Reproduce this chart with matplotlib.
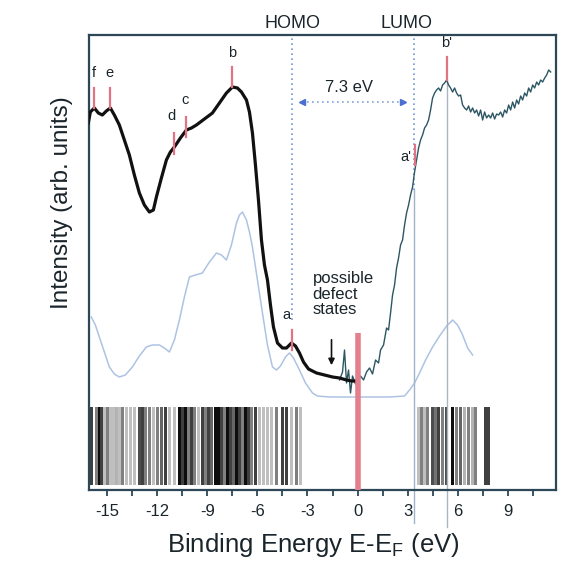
import matplotlib
matplotlib.use("Agg")
import matplotlib.pyplot as plt
from matplotlib.ticker import FixedLocator

plt.rcParams['font.family'] = ['Liberation Sans', 'DejaVu Sans']
plt.rcParams['axes.unicode_minus'] = False
plt.rcParams['mathtext.fontset'] = 'custom'
plt.rcParams['mathtext.rm'] = 'Liberation Sans'

# ---- data ----
# occupied-side spectrum (thick black)
occ_E = [-16.14, -16.02, -15.78, -15.54, -15.30, -15.06, -14.82, -14.58, -14.28, -13.98,
         -13.68, -13.38, -13.08, -12.78, -12.48, -12.24, -12.06, -11.76, -11.46, -11.22,
         -10.98, -10.62, -10.26, -9.96, -9.66, -9.18, -8.70, -8.28, -7.86, -7.50,
         -7.20, -6.96, -6.66, -6.48, -6.30, -6.12, -5.94, -5.76, -5.58, -5.40,
         -5.22, -5.04, -4.80, -4.50, -4.26, -3.96, -3.72, -3.48, -3.24, -2.94,
         -2.46, -1.98, -1.50, -1.08, -0.66, -0.36, -0.06]
occ_I = [36.7, 37.8, 38.2, 37.7, 37.5, 37.9, 38.2, 37.5, 36.5, 35.0,
         33.5, 31.5, 29.7, 28.5, 27.8, 28.0, 29.3, 31.2, 33.0, 33.8,
         34.3, 35.2, 36.0, 36.2, 36.5, 37.1, 37.7, 38.7, 39.7, 40.3,
         40.2, 39.8, 39.0, 37.8, 35.7, 32.5, 29.0, 25.0, 22.5, 21.0,
         18.5, 16.3, 14.7, 14.2, 14.2, 14.7, 14.4, 13.7, 12.8, 12.1,
         11.7, 11.5, 11.3, 11.2, 11.0, 10.9, 10.9]

# unoccupied-side spectrum (thin)
unocc_E = [-1.08, -0.90, -0.78, -0.66, -0.54, -0.42, -0.30, -0.12, 0.00, 0.18,
           0.36, 0.54, 0.72, 0.90, 1.08, 1.26, 1.38, 1.56, 1.74, 1.86,
           1.98, 2.10, 2.22, 2.34, 2.46, 2.58, 2.70, 2.82, 2.94, 3.06,
           3.18, 3.30, 3.42, 3.54, 3.66, 3.78, 3.90, 4.02, 4.14, 4.26,
           4.38, 4.50, 4.62, 4.74, 4.86, 4.98, 5.10, 5.22, 5.34, 5.46,
           5.58, 5.70, 5.82, 5.94, 6.06, 6.18, 6.30, 6.42, 6.54, 6.66,
           6.78, 6.90, 7.02, 7.14, 7.26, 7.38, 7.50, 7.62, 7.74, 7.86,
           7.98, 8.10, 8.22, 8.34, 8.46, 8.58, 8.70, 8.82, 8.94, 9.06,
           9.18, 9.30, 9.42, 9.54, 9.66, 9.78, 9.90, 10.02, 10.14, 10.26,
           10.38, 10.50, 10.62, 10.74, 10.86, 10.98, 11.10, 11.22, 11.34, 11.46,
           11.58]
unocc_I = [11.0, 11.8, 14.0, 10.7, 12.0, 9.7, 11.4, 10.6, 11.0, 11.4,
           11.0, 11.8, 12.2, 11.6, 13.0, 12.7, 14.0, 14.5, 16.2, 16.0,
           17.7, 19.5, 20.5, 22.2, 23.2, 24.5, 25.0, 26.5, 27.7, 28.5,
           29.5, 30.3, 31.8, 33.0, 34.2, 35.0, 35.5, 36.2, 36.5, 37.0,
           38.0, 39.2, 39.7, 40.0, 40.2, 39.9, 40.5, 40.7, 41.0, 40.5,
           40.2, 39.8, 40.2, 39.7, 39.4, 39.5, 38.5, 38.2, 38.0, 38.4,
           37.8, 38.2, 37.7, 38.0, 37.4, 38.0, 37.0, 37.8, 37.2, 37.5,
           37.2, 37.7, 37.1, 37.6, 37.5, 37.8, 37.3, 38.0, 37.7, 38.5,
           38.0, 38.8, 38.2, 39.0, 38.6, 39.4, 39.0, 39.7, 39.4, 40.2,
           39.8, 40.5, 40.2, 40.8, 40.5, 41.0, 40.8, 41.2, 41.5, 42.0,
           41.8]

# calculated DOS (light blue)
dos_E = [-15.96, -15.72, -15.48, -15.18, -14.88, -14.58, -14.28, -13.92, -13.50, -13.08,
         -12.66, -12.30, -11.88, -11.58, -11.28, -10.98, -10.68, -10.38, -10.08, -9.72,
         -9.30, -8.88, -8.46, -8.16, -7.86, -7.56, -7.26, -7.08, -6.90, -6.66,
         -6.48, -6.30, -6.00, -5.70, -5.40, -5.10, -4.86, -4.62, -4.32, -4.08,
         -3.84, -3.48, -3.12, -2.70, -2.40, -1.68, 0.12, 1.92, 2.82, 3.12,
         3.42, 3.72, 4.08, 4.50, 4.92, 5.34, 5.70, 6.00, 6.30, 6.60, 6.90]
dos_I = [17.3, 16.5, 15.3, 13.8, 12.3, 11.6, 11.3, 11.5, 12.3, 13.4,
         14.3, 14.5, 14.5, 14.2, 13.8, 15.0, 17.0, 19.3, 21.3, 21.5,
         21.7, 22.8, 23.7, 23.5, 23.0, 24.5, 26.7, 27.5, 27.8, 27.0,
         25.8, 24.3, 21.0, 17.7, 14.5, 12.3, 12.0, 12.4, 13.3, 13.7,
         13.2, 12.0, 10.7, 9.7, 9.4, 9.3, 9.3, 9.3, 9.4, 10.0,
         10.7, 11.7, 13.0, 14.3, 15.4, 16.4, 17.0, 16.5, 15.5, 14.2, 13.5]

# eigenvalue "barcode"
level_E = [-16.08, -15.96, -15.66, -15.48, -15.36, -15.18, -15.0, -14.82, -14.64, -14.46,
           -14.28, -14.1, -13.86, -13.62, -13.38, -13.08, -12.9, -12.72, -12.48, -12.24,
           -12.0, -11.76, -11.52, -11.28, -10.98, -10.68, -10.5, -10.32, -10.14, -9.96,
           -9.78, -9.54, -9.3, -9.12, -8.94, -8.76, -8.52, -8.34, -8.16, -7.98,
           -7.8, -7.62, -7.44, -7.26, -7.08, -6.9, -6.72, -6.54, -6.36, -6.12,
           -5.88, -5.64, -5.4, -5.16, -4.86, -4.5, -4.26, -3.96, -3.66, -3.42,
           3.66, 3.84, 4.02, 4.2, 4.5, 4.68, 4.86, 5.1, 5.34, 5.7,
           5.94, 6.18, 6.42, 6.66, 6.9, 7.08, 7.68, 7.86]
level_gray = [0.05, 0.25, 0.5, 0.05, 0.25, 0.75, 0.5, 0.75, 0.75, 0.7,
              0.75, 0.5, 0.75, 0.75, 0.75, 0.3, 0.25, 0.5, 0.5, 0.75,
              0.5, 0.4, 0.25, 0.75, 0.75, 0.05, 0.25, 0.05, 0.5, 0.25,
              0.5, 0.75, 0.25, 0.5, 0.25, 0.4, 0.05, 0.05, 0.25, 0.5,
              0.05, 0.25, 0.4, 0.05, 0.25, 0.5, 0.05, 0.25, 0.5, 0.25,
              0.75, 0.75, 0.75, 0.75, 0.5, 0.25, 0.25, 0.75, 0.5, 0.75,
              0.75, 0.5, 0.75, 0.5, 0.3, 0.45, 0.25, 0.5, 0.3, 0.05,
              0.5, 0.4, 0.7, 0.5, 0.7, 0.5, 0.25, 0.25]

# peak markers: label, energy, marker bottom, marker top, label x, label y
peak_labels = ['f', 'e', 'd', 'c', 'b', 'a', "a'", "b'"]
peak_E = [-15.78, -14.82, -10.98, -10.26, -7.50, -3.90, 3.42, 5.34]
peak_lo = [38.2, 38.2, 33.6, 35.3, 40.3, 14.0, 32.5, 41.0]
peak_hi = [40.2, 40.2, 35.7, 37.3, 42.3, 16.0, 34.5, 43.3]
label_E = [-15.78, -14.88, -11.16, -10.32, -7.50, -4.26, 2.90, 5.34]
label_I = [41.0, 41.0, 36.7, 38.3, 43.0, 16.8, 32.6, 44.0]

xticks = [-15, -12, -9, -6, -3, 0, 3, 6, 9]
xtick_labels = ['-15', '-12', '-9', '-6', '-3', '0', '3', '6', '9']
minor_ticks = [-13.5, -10.5, -7.5, -4.5, -1.5, 1.5, 4.5, 7.5, 10.5]

homo_E = -3.9
lumo_E = 3.4
fermi_E = 0.0
bprime_E = 5.34
gap_text = '7.3 eV'

# ---- figure ----
fig = plt.figure(figsize=(5.68, 5.69), dpi=100)
ax = fig.add_axes([89/568, 79/569, 467/568, 455/569])
ax.set_xlim(-16.1, 11.9)
ax.set_ylim(0, 45.5)

frame_col = '#2d4756'
text_col = '#1a252b'
for s in ax.spines.values():
    s.set_color(frame_col)
    s.set_linewidth(1.6)

# barcode
ax.bar(level_E, [7.8] * len(level_E), bottom=0.5, width=0.2,
       color=[str(g) for g in level_gray], linewidth=0, zorder=1)

# DOS
ax.plot(dos_E, dos_I, color='#aec3e3', lw=1.1, zorder=2)

# vertical guide lines
ax.plot([homo_E, homo_E], [17.0, 45.5], color='#6f97d6', lw=1.2, ls=(0, (1, 2)), zorder=2)
ax.plot([lumo_E, lumo_E], [30.0, 45.5], color='#6f97d6', lw=1.2, ls=(0, (1, 2)), zorder=2)
ax.plot([lumo_E, lumo_E], [-3.3, 30.0], color='#9fb4c8', lw=1.0, clip_on=False, zorder=2)
ax.plot([bprime_E, bprime_E], [-3.7, 41.0], color='#a9b6c2', lw=1.0, clip_on=False, zorder=2)

# gap arrow
ax.plot([-3.3, 2.7], [38.8, 38.8], color='#7ea3dc', lw=1.2, ls=(0, (1, 2)), zorder=3)
ax.plot([-3.3], [38.8], marker='<', ms=4, color='#4a6fd0', zorder=3)
ax.plot([2.7], [38.8], marker='>', ms=4, color='#4a6fd0', zorder=3)
ax.text(-0.54, 40.3, gap_text, ha='center', va='center', fontsize=12, color=text_col)

# Fermi level
ax.plot([fermi_E, fermi_E], [0, 15.7], color='#e47f8e', lw=4, solid_capstyle='butt', zorder=5)

# spectra
ax.plot(unocc_E, unocc_I, color='#2c5662', lw=1.0, zorder=4)
ax.plot(occ_E, occ_I, color='#111111', lw=2.3, zorder=4)

# peak markers and labels
for lab, e, lo, hi, lx, ly in zip(peak_labels, peak_E, peak_lo, peak_hi, label_E, label_I):
    ax.plot([e, e], [lo, hi], color='#e07484', lw=1.6, zorder=6)
    ax.text(lx, ly, lab, ha='center', va='bottom', fontsize=10.5, color=text_col, zorder=7)

# defect annotation
ax.text(-2.7, 21.9, 'possible\ndefect\nstates', ha='left', va='top', fontsize=12,
        color=text_col, linespacing=1.05)
ax.annotate('', xy=(-1.56, 12.2), xytext=(-1.56, 15.3),
            arrowprops=dict(arrowstyle='-|>', color='#111111', lw=1.2, mutation_scale=9))

# HOMO / LUMO labels
ax.text(homo_E, 46.7, 'HOMO', ha='center', va='center', fontsize=13, color=text_col, clip_on=False)
ax.text(2.95, 46.7, 'LUMO', ha='center', va='center', fontsize=13, color=text_col, clip_on=False)

# ticks
ax.set_yticks([])
ax.xaxis.set_major_locator(FixedLocator(xticks))
ax.set_xticklabels(xtick_labels)
ax.xaxis.set_minor_locator(FixedLocator(minor_ticks))
ax.tick_params(axis='x', which='both', direction='out', length=4, width=1.3,
               color=frame_col, labelsize=12, labelcolor=text_col, pad=6)

fig.text(62/568, 1 - 203/569, 'Intensity (arb. units)', rotation=90, ha='center', va='center',
         fontsize=17.5, color=text_col)
fig.text(313/568, 1 - 545/569, r'Binding Energy E-E$_\mathregular{F}$ (eV)', ha='center', va='center',
         fontsize=18.5, color=text_col)

fig.savefig('out.png', dpi=100, facecolor='white')
